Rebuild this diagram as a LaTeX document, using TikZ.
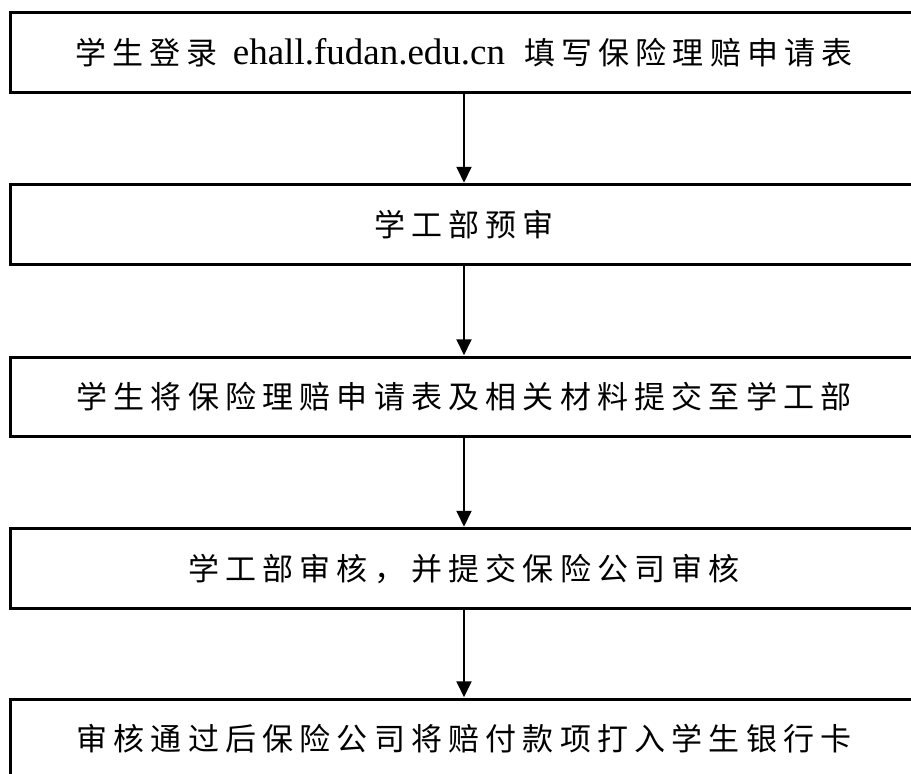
\documentclass[tikz,border=0pt]{standalone}
\usepackage{fontspec}
\setmainfont{Liberation Serif}
\newfontfamily\cjk[LetterSpace=20]{Noto Sans CJK SC}
\usetikzlibrary{arrows.meta}
\newcommand{\txt}[1]{\raisebox{-4pt}{#1}}
\tikzset{
  stepbox/.style={draw, line width=3pt, minimum width=908pt, minimum height=79.5pt,
    inner sep=0pt, font=\fontsize{31}{38}\selectfont, anchor=center},
  arr/.style={line width=1.9pt, -{Triangle[length=16pt,width=15pt]}, shorten >=0.5pt}
}
\begin{document}
\begin{tikzpicture}[x=1pt,y=-1pt]
\useasboundingbox (0,0) rectangle (911,774);
\clip (0,0) rectangle (911,774);
\node[stepbox] (b1) at (464,52.25) {\txt{{\cjk 学生登录}\hspace{15pt}{\fontsize{37}{40}\selectfont ehall.fudan.edu.cn}\hspace{19pt}{\cjk 填写保险理赔申请表}}};
\node[stepbox] (b2) at (464,224.5) {\txt{\cjk 学工部预审}};
\node[stepbox] (b3) at (464,397) {\txt{\cjk 学生将保险理赔申请表及相关材料提交至学工部}};
\node[stepbox] (b4) at (464,568.5) {\txt{\cjk 学工部审核，并提交保险公司审核}};
\node[stepbox] (b5) at (464,739) {\txt{\cjk 审核通过后保险公司将赔付款项打入学生银行卡}};
\draw[arr] (b1.south) -- (b2.north);
\draw[arr] (b2.south) -- (b3.north);
\draw[arr] (b3.south) -- (b4.north);
\draw[arr] (b4.south) -- (b5.north);
\end{tikzpicture}
\end{document}
